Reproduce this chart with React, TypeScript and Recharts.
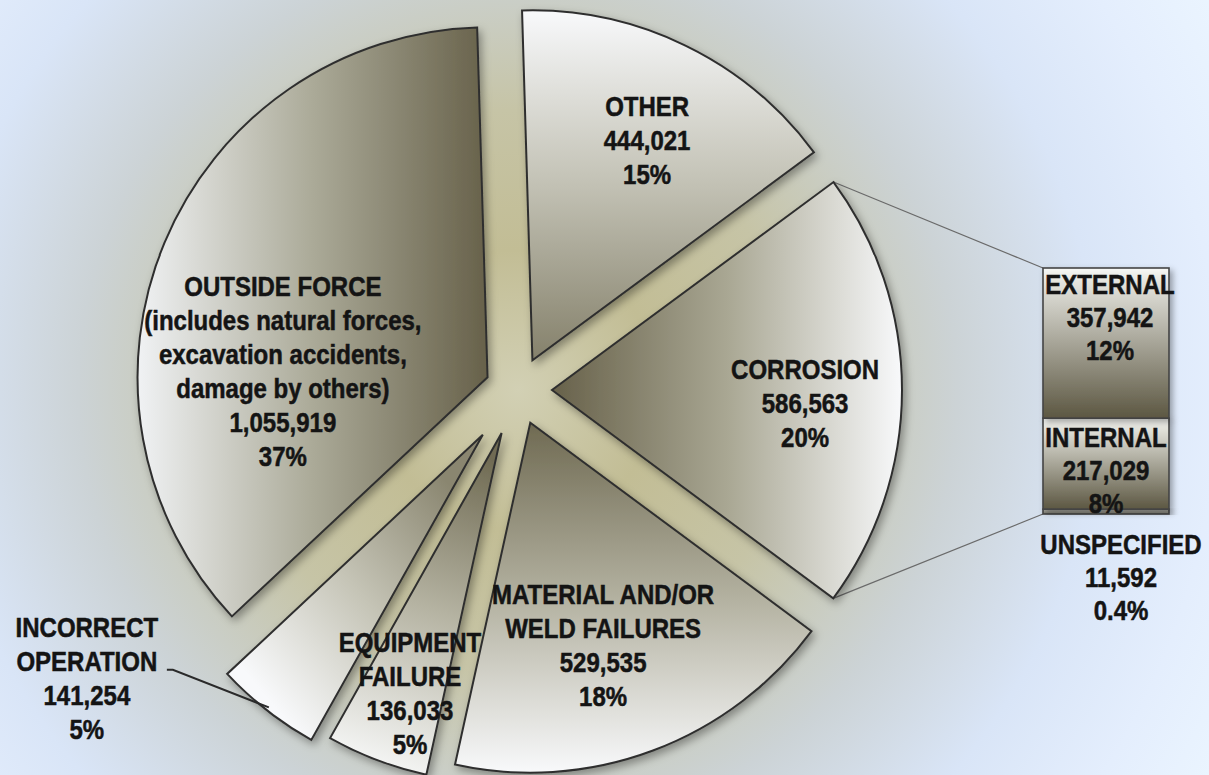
import React from 'react';
import { PieChart, Pie, BarChart, Bar, XAxis, YAxis, Sector } from 'recharts';

// ---------- data ----------
const causeNames = ['OTHER', 'CORROSION', 'MATERIAL AND/OR WELD FAILURES', 'EQUIPMENT FAILURE', 'INCORRECT OPERATION', 'OUTSIDE FORCE'];
const causeLabelLines = [
  ['OTHER'],
  ['CORROSION'],
  ['MATERIAL AND/OR', 'WELD FAILURES'],
  ['EQUIPMENT', 'FAILURE'],
  ['INCORRECT', 'OPERATION'],
  ['OUTSIDE FORCE', '(includes natural forces,', 'excavation accidents,', 'damage by others)'],
];
const causeValues = [444021, 586563, 529535, 136033, 141254, 1055919];
const causePercents = ['15%', '20%', '18%', '5%', '5%', '37%'];

const corrosionParts = ['UNSPECIFIED', 'INTERNAL', 'EXTERNAL'];
const corrosionValues = [11592, 217029, 357942];
const corrosionPercents = ['0.4%', '8%', '12%'];

// ---------- derived ----------
const corrosionTotal = corrosionValues.reduce((a, b) => a + b, 0);
const pieData = causeNames.map((name, i) => ({ name, value: causeValues[i] }));
const barRow: Record<string, any> = { cat: 'CORROSION' };
corrosionParts.forEach((p, i) => { barRow[p] = corrosionValues[i]; });
const barData = [barRow];

// ---------- style / layout ----------
const W = 1209, H = 775;
const PIE_CX = 518, PIE_CY = 390, PIE_R = 350;
const START_ANGLE = 91.7;
const explode = [33, 34, 35, 46, 57, 33];
const labelPlace: Array<{ r: number; da: number } | null> = [
  { r: 0.709, da: -1.6 },
  { r: 0.724, da: -2.9 },
  { r: 0.669, da: -2.4 },
  { r: 0.789, da: 1.5 },
  null,
  { r: 0.585, da: 21 },
];
// gradient direction per slice (angle in degrees pointing from dark to light) and its colours
const sliceGrad = [
  { ang: 90, dark: '#85816b', mid: '#c2c1b4', light: '#f8f9fb' },
  { ang: 0, dark: '#67614a', mid: '#a9a793', light: '#f8f9fb' },
  { ang: -90, dark: '#6f6a52', mid: '#b3b1a0', light: '#f8f9fb' },
  { ang: -100, dark: '#6f6a52', mid: '#b5b3a2', light: '#f4f5f4' },
  { ang: -135, dark: '#8a8670', mid: '#c5c4b6', light: '#f8f9fb' },
  { ang: 180, dark: '#67614a', mid: '#abaa98', light: '#f0f2f4' },
];
const BAR_BOX = { left: 1020, top: 250, width: 189, height: 400 };
const BAR_MARGIN = { top: 18, bottom: 136, left: 23, right: 40 };
const BAR_X = BAR_BOX.left + BAR_MARGIN.left;
const BAR_TOP = BAR_BOX.top + BAR_MARGIN.top;
const BAR_BOTTOM = BAR_BOX.top + BAR_BOX.height - BAR_MARGIN.bottom;

const FONT = "'Liberation Sans', Arial, Helvetica, sans-serif";
const LINE_GAP = 34;
const RAD = Math.PI / 180;

const fmt = (v: number) => v.toLocaleString('en-US');

function TextLines({ x, y, lines, gap = LINE_GAP }: { x: number; y: number; lines: string[]; gap?: number }) {
  return (
    <g>
      {lines.map((t, k) => (
        <text
          key={k}
          transform={`translate(${x},${y + k * gap + 9.7}) scale(1,1.13)`}
          textAnchor="middle"
          fontFamily={FONT}
          fontWeight="bold"
          fontSize={24}
          fill="#141414"
          stroke="#141414"
          strokeWidth={0.45}
        >
          {t}
        </text>
      ))}
    </g>
  );
}

const idxOf = (props: any) => {
  const n = props?.name ?? props?.payload?.name ?? props?.payload?.payload?.name;
  const i = causeNames.indexOf(n);
  return i >= 0 ? i : props?.index ?? 0;
};

function renderSlice(props: any) {
  const { cx, cy, outerRadius, startAngle, endAngle } = props;
  const i = idxOf(props);
  const mid = (startAngle + endAngle) / 2;
  const d = explode[i] ?? 0;
  const ox = cx + d * Math.cos(mid * RAD);
  const oy = cy - d * Math.sin(mid * RAD);
  const g = sliceGrad[i];
  const c = Math.cos(g.ang * RAD), s = Math.sin(g.ang * RAD);
  const gid = `sliceGrad${i}`;
  let connectors = null;
  if (i === 1) {
    const p1 = { x: ox + outerRadius * Math.cos(startAngle * RAD), y: oy - outerRadius * Math.sin(startAngle * RAD) };
    const p2 = { x: ox + outerRadius * Math.cos(endAngle * RAD), y: oy - outerRadius * Math.sin(endAngle * RAD) };
    const top = p1.y < p2.y ? p1 : p2;
    const bot = p1.y < p2.y ? p2 : p1;
    connectors = (
      <g stroke="#6a6a6a" strokeWidth={1.2}>
        <line x1={top.x} y1={top.y} x2={BAR_X} y2={BAR_TOP} />
        <line x1={bot.x} y1={bot.y} x2={BAR_X} y2={BAR_BOTTOM} />
      </g>
    );
  }
  return (
    <g>
      <defs>
        <linearGradient id={gid} x1={0.5 - 0.5 * c} y1={0.5 + 0.5 * s} x2={0.5 + 0.5 * c} y2={0.5 - 0.5 * s}>
          <stop offset="0%" stopColor={g.dark} />
          <stop offset="50%" stopColor={g.mid} />
          <stop offset="100%" stopColor={g.light} />
        </linearGradient>
      </defs>
      {connectors}
      <Sector
        cx={ox}
        cy={oy}
        innerRadius={0}
        outerRadius={outerRadius}
        startAngle={startAngle}
        endAngle={endAngle}
        fill={`url(#${gid})`}
        stroke="#2f2f2f"
        strokeWidth={2}
        filter="url(#pieShadow)"
      />
    </g>
  );
}

function renderLabel(props: any) {
  const { cx, cy, outerRadius, value } = props;
  const i = idxOf(props);
  const mid = props.midAngle;
  const d = explode[i] ?? 0;
  const ox = cx + d * Math.cos(mid * RAD);
  const oy = cy - d * Math.sin(mid * RAD);
  const lines = [...causeLabelLines[i], fmt(value), causePercents[i]];
  const place = labelPlace[i];
  if (place) {
    const a = (mid + place.da) * RAD;
    const bx = ox + place.r * outerRadius * Math.cos(a);
    const by = oy - place.r * outerRadius * Math.sin(a);
    const firstY = by - ((lines.length - 1) / 2) * LINE_GAP;
    return <TextLines key={`lbl${i}`} x={bx} y={firstY} lines={lines} />;
  }
  // outside label with leader line
  const ax = ox + 0.99 * outerRadius * Math.cos(mid * RAD);
  const ay = oy - 0.99 * outerRadius * Math.sin(mid * RAD);
  const ex = ax - 96, ey = ay - 37.6;
  const endX = ex - 6;
  return (
    <g key={`lbl${i}`}>
      <polyline points={`${ax},${ay} ${ex},${ey} ${endX},${ey}`} fill="none" stroke="#2a2a2a" strokeWidth={2} />
      <TextLines x={endX - 80} y={ey - 42} lines={lines} />
    </g>
  );
}

function makeBarShape(part: string) {
  return (props: any) => {
    const { x, y, width, height } = props;
    const k = corrosionParts.indexOf(part);
    const v = corrosionValues[k];
    const lines = [part, fmt(v), corrosionPercents[k]];
    const cxBar = x + width / 2;
    let label = null;
    if (part === 'EXTERNAL') label = <TextLines x={cxBar + 4} y={y + 16} lines={lines} gap={33} />;
    else if (part === 'INTERNAL') label = <TextLines x={cxBar} y={y + 19} lines={lines} gap={33} />;
    else label = <TextLines x={cxBar + 15} y={y + height + 30} lines={lines} gap={33} />;
    return (
      <g>
        <rect x={x} y={y} width={width} height={height} fill={`url(#barGrad${part})`} stroke="#444" strokeWidth={1.6} filter="url(#barShadow)" />
        {label}
      </g>
    );
  };
}

export default function App() {
  return (
    <div
      style={{
        position: 'absolute',
        left: 0,
        top: 0,
        width: W,
        height: H,
        overflow: 'hidden',
        background: `radial-gradient(circle at ${PIE_CX}px ${PIE_CY}px, #d2d0b4 0px, #c2bd95 140px, #c6c4a6 280px, #ccd3d6 440px, #d9e5f7 580px, #e4eefd 700px, #ecf6ff 820px)`,
      }}
    >
      <div style={{ position: 'absolute', left: 0, top: 0 }}>
        <PieChart width={W} height={H} margin={{ top: 0, right: 0, bottom: 0, left: 0 }}>
          <defs>
            <filter id="pieShadow" x="-20%" y="-20%" width="140%" height="140%">
              <feDropShadow dx="3" dy="4" stdDeviation="4" floodColor="#000" floodOpacity="0.35" />
            </filter>
          </defs>
          <Pie
            data={pieData}
            dataKey="value"
            nameKey="name"
            cx={PIE_CX}
            cy={PIE_CY}
            innerRadius={0}
            outerRadius={PIE_R}
            startAngle={START_ANGLE}
            endAngle={START_ANGLE - 360}
            isAnimationActive={false}
            shape={renderSlice}
            inactiveShape={renderSlice}
            activeShape={renderSlice}
            label={renderLabel}
            labelLine={false}
            stroke="none"
          />
        </PieChart>
      </div>
      <div style={{ position: 'absolute', left: BAR_BOX.left, top: BAR_BOX.top }}>
        <BarChart width={BAR_BOX.width} height={BAR_BOX.height} data={barData} margin={BAR_MARGIN} barCategoryGap={0}>
          <defs>
            <filter id="barShadow" x="-20%" y="-20%" width="140%" height="140%">
              <feDropShadow dx="3" dy="3" stdDeviation="3" floodColor="#000" floodOpacity="0.35" />
            </filter>
            <linearGradient id="barGradEXTERNAL" x1="0" y1="0" x2="0" y2="1">
              <stop offset="0%" stopColor="#f7f8f6" />
              <stop offset="8%" stopColor="#e6e6e0" />
              <stop offset="100%" stopColor="#5c5742" />
            </linearGradient>
            <linearGradient id="barGradINTERNAL" x1="0" y1="0" x2="0" y2="1">
              <stop offset="0%" stopColor="#f7f8f6" />
              <stop offset="12%" stopColor="#e2e2da" />
              <stop offset="100%" stopColor="#5c5742" />
            </linearGradient>
            <linearGradient id="barGradUNSPECIFIED" x1="0" y1="0" x2="0" y2="1">
              <stop offset="0%" stopColor="#b8b8b0" />
              <stop offset="100%" stopColor="#77766a" />
            </linearGradient>
          </defs>
          <XAxis dataKey="cat" hide />
          <YAxis hide type="number" domain={[0, corrosionTotal]} />
          {corrosionParts.map((p) => (
            <Bar key={p} dataKey={p} stackId="c" isAnimationActive={false} shape={makeBarShape(p)} />
          ))}
        </BarChart>
      </div>
    </div>
  );
}
